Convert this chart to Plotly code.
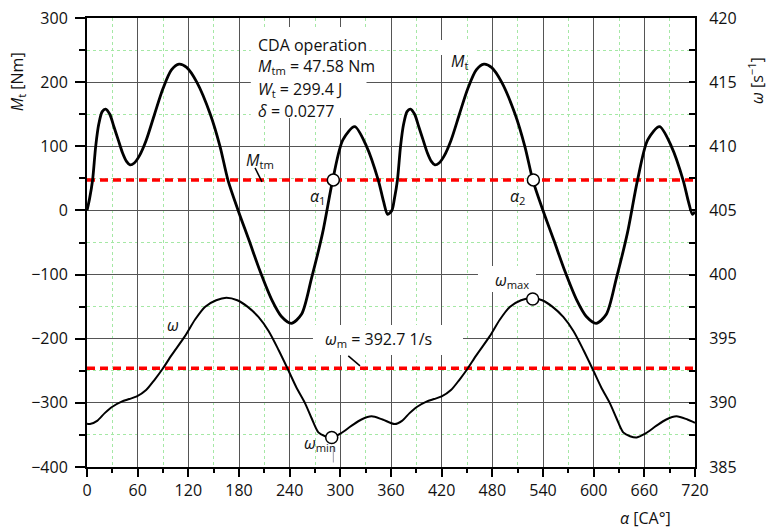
import plotly.graph_objects as go

# ---------------- data ----------------
# Crank angle [CA deg] and torque M_t [Nm] (left axis)
alpha_mt = [0, 3, 6.6, 10.3, 14, 18, 22, 27, 32, 37, 42, 47, 51, 56, 62, 70, 80, 90, 100, 109,
            118, 130, 146, 157.5, 167, 179, 192, 205, 219, 230, 242, 254, 266, 279, 291, 303,
            317, 331, 345, 351, 356,
            361, 364, 367.6, 371.3, 375, 379, 383, 388, 393, 398, 403, 408, 412, 417, 423, 431,
            441, 451, 461, 470, 479, 491, 507, 518.5, 528, 540, 553, 566, 580, 591, 603, 615,
            627, 640, 652, 664, 678, 692, 706, 712, 717, 720]
mt = [0, 18, 47, 100, 135, 154, 158, 150, 130, 110, 90, 76, 71, 74, 85, 109, 150, 190, 219, 228,
      223, 200, 150, 100, 47, 0, -47, -95, -140, -165, -176, -162, -105, -35, 47.6, 110,
      130.6, 100, 47, 15, -6,
      0, 18, 47, 100, 135, 154, 158, 150, 130, 110, 90, 76, 71, 74, 85, 109,
      150, 190, 219, 228, 223, 200, 150, 100, 47, 0, -47, -95, -140, -165, -176, -162,
      -105, -35, 47.6, 110, 130.6, 100, 47, 15, -6, -2]

# Angular speed omega [1/s] (right axis)
alpha_w = [0, 3.5, 12, 21, 30, 41, 50, 59, 70, 80, 89, 100, 116, 128, 140, 153, 165, 178, 190,
           203, 215, 227, 238, 248, 258, 266, 274, 282, 290, 300, 313, 325, 337, 350,
           364.5, 373, 382, 391, 402, 411, 420, 431, 441, 450, 461, 477, 489, 501, 514, 527,
           539, 551, 564, 576, 588, 599, 609, 619, 627, 635, 643, 651, 661, 674, 686, 698,
           711, 720]
omega = [388.38, 388.35, 388.6, 389.2, 389.7, 390.1, 390.3, 390.5, 391.0, 391.8, 392.6, 393.7,
         395.2, 396.5, 397.5, 398.0, 398.2, 398.0, 397.5, 396.7, 395.6, 394.1, 392.6, 391.2,
         390.0, 388.8, 387.7, 387.4, 387.3, 387.6, 388.2, 388.7, 388.95, 388.7,
         388.35, 388.6, 389.2, 389.7, 390.1, 390.3, 390.5, 391.0, 391.8, 392.6, 393.7, 395.2,
         396.5, 397.5, 398.0, 398.2, 398.0, 397.5, 396.7, 395.6, 394.1, 392.6, 391.2, 390.0,
         388.8, 387.7, 387.4, 387.3, 387.6, 388.2, 388.7, 388.95, 388.7, 388.45]

M_TM = 47.58          # mean torque [Nm]
OMEGA_M = 392.7       # mean angular speed [1/s]
alpha_cross = [291.7, 528.6]        # alpha_1, alpha_2
alpha_w_ext = [289.8, 527.8]        # omega_min, omega_max positions
omega_ext = [387.3, 398.1]

x_ticks = list(range(0, 721, 60))
FONT = "Open Sans"
GRID = "#555555"
MINOR = "rgb(165,232,165)"

fig = go.Figure()

# mean lines
fig.add_trace(go.Scatter(x=[0, 720], y=[M_TM, M_TM], mode="lines",
                         line=dict(color="#ff0000", width=3.5, dash="8px,5px"),
                         hoverinfo="skip"))
# torque curve
fig.add_trace(go.Scatter(x=alpha_mt, y=mt, mode="lines",
                         line=dict(color="black", width=2.8, shape="spline", smoothing=0.8)))
# alpha markers
fig.add_trace(go.Scatter(x=alpha_cross, y=[M_TM, M_TM], mode="markers",
                         marker=dict(size=12, color="white", line=dict(color="black", width=1.5))))

fig.add_trace(go.Scatter(x=[0, 720], y=[OMEGA_M, OMEGA_M], yaxis="y2", mode="lines",
                         line=dict(color="#ff0000", width=3.5, dash="8px,5px")))
fig.add_trace(go.Scatter(x=alpha_w, y=omega, yaxis="y2", mode="lines",
                         line=dict(color="black", width=2, shape="spline", smoothing=0.8)))
fig.add_trace(go.Scatter(x=alpha_w_ext, y=omega_ext, yaxis="y2", mode="markers",
                         marker=dict(size=12, color="white", line=dict(color="black", width=1.5))))

# white label backgrounds (between grid and traces)
boxes = [
    (194, 331, 144, 286),      # CDA text block
    (182.4, 214.4, 60, 97.4),  # M_tm label
    (267.6, 445.3, -225.3, -178.5),  # omega_m label
    (463, 531.7, -127, -86.5),  # omega_max label
    (418, 459.5, 242.4, 265.8),  # M_t label
]
shapes = []
for x0, x1, y0, y1 in boxes:
    shapes.append(dict(type="rect", xref="x", yref="y", x0=x0, x1=x1, y0=y0, y1=y1,
                       fillcolor="white", line=dict(width=0), layer="between"))
# leader lines
shapes.append(dict(type="line", xref="x", yref="y", x0=199, y0=66.3, x1=207.2, y1=44.5,
                   line=dict(color="black", width=1.5)))
shapes.append(dict(type="line", xref="x", yref="y", x0=309.4, y0=-226.8, x1=323.3, y1=-242.4,
                   line=dict(color="black", width=1.5)))
shapes.append(dict(type="line", xref="x", yref="y", x0=291.7, y0=-368, x1=291.7, y1=-393,
                   line=dict(color="#9999aa", width=1)))

def ann(x, y, text, xanchor="center", xref="x", yref="y", angle=0, size=16):
    return dict(x=x, y=y, xref=xref, yref=yref, text=text, showarrow=False,
                xanchor=xanchor, yanchor="middle", textangle=angle,
                font=dict(family=FONT, size=size, color="#111"))

annotations = [
    ann(200, 258, "CDA operation", xanchor="left"),
    ann(200, 223.7, "<i>M</i><sub>tm</sub> = 47.58 Nm", xanchor="left"),
    ann(200, 187.9, "<i>W</i><sub>t</sub> = 299.4 J", xanchor="left"),
    ann(200, 155.1, "<i>δ</i> = 0.0277", xanchor="left"),
    ann(441.7, 232, "<i>M</i><sub>t</sub>"),
    ann(205, 78, "<i>M</i><sub>tm</sub>"),
    ann(273.6, 22, "<i>α</i><sub>1</sub>"),
    ann(510.8, 22, "<i>α</i><sub>2</sub>"),
    ann(101.8, -178.5, "<i>ω</i>"),
    ann(279.8, -201, "<i>ω</i><sub>m</sub> = 392.7 1/s", xanchor="left"),
    ann(503, -109, "<i>ω</i><sub>max</sub>"),
    ann(275.9, -363, "<i>ω</i><sub>min</sub>"),
    # axis titles
    ann(-0.1151, 0.857, "<i>M</i><sub>t</sub> [Nm]", xref="paper", yref="paper", angle=-90),
    ann(1.1003, 0.862, "<i>ω</i> [s<sup>−1</sup>]", xref="paper", yref="paper", angle=-90),
    ann(0.9194, -0.1140, "<i>α</i> [CA°]", xref="paper", yref="paper"),
]

axis_common = dict(showline=True, linecolor="black", linewidth=2, mirror=True,
                   zeroline=False, tickfont=dict(family=FONT, size=16, color="#111"),
                   tickcolor="black", tickwidth=2, automargin=False)

fig.update_layout(
    width=768, height=531,
    margin=dict(l=87, r=73, t=18, b=64, autoexpand=False),
    paper_bgcolor="white", plot_bgcolor="white",
    showlegend=False,
    font=dict(family=FONT, size=16, color="#111"),
    xaxis=dict(range=[0, 720], tickvals=x_ticks, ticks="outside", ticklen=8,
               showgrid=True, gridcolor=GRID, gridwidth=1.2,
               minor=dict(dtick=30, tick0=0, ticks="outside", ticklen=4, tickwidth=2,
                          tickcolor="black", showgrid=True, gridcolor=MINOR,
                          griddash="dot", gridwidth=1),
               **axis_common),
    yaxis=dict(range=[-400, 300], dtick=100, tick0=0, ticks="outside", ticklen=10,
               ticklabelstandoff=4,
               showgrid=True, gridcolor=GRID, gridwidth=1.2,
               minor=dict(dtick=50, tick0=0, ticks="outside", ticklen=6, tickwidth=2,
                          tickcolor="black", showgrid=True, gridcolor=MINOR,
                          griddash="dot", gridwidth=1),
               **axis_common),
    yaxis2=dict(range=[385, 420], dtick=5, tick0=385, overlaying="y", side="right",
                ticks="inside", ticklen=6, showgrid=False,
                minor=dict(dtick=2.5, tick0=385, ticks="inside", ticklen=6, tickwidth=2,
                           tickcolor="black", showgrid=False),
                showline=True, linecolor="black", linewidth=2, zeroline=False,
                tickfont=dict(family=FONT, size=16, color="#111"),
                tickcolor="black", tickwidth=2, ticklabelstandoff=9, automargin=False),
    shapes=shapes,
    annotations=annotations,
)

fig.write_html("out.html", config={"displayModeBar": False})

# remove the browser's default page margin so the figure sits at the top-left corner
with open("out.html", "r", encoding="utf-8") as f:
    html = f.read()
html = html.replace("<head>", "<head><style>html,body{margin:0;padding:0;}</style>", 1)
with open("out.html", "w", encoding="utf-8") as f:
    f.write(html)
